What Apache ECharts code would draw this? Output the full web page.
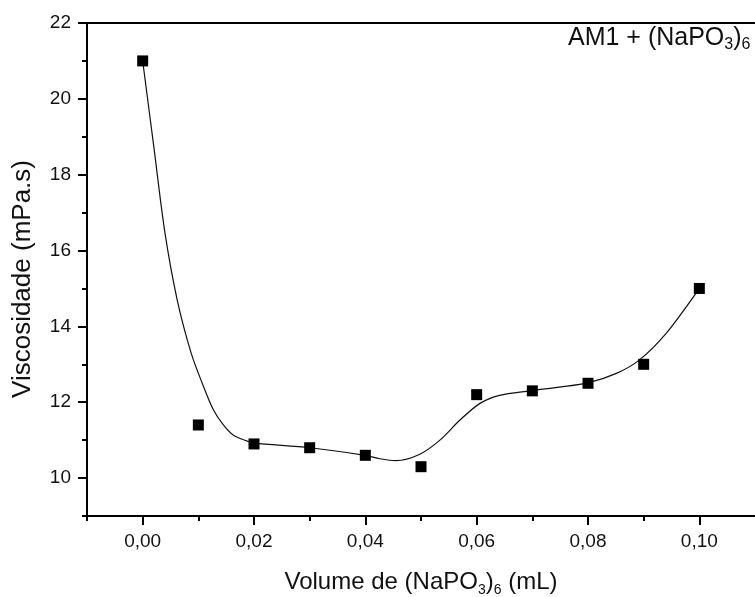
<!DOCTYPE html>
<html>
<head>
<meta charset="utf-8">
<script src="https://cdn.jsdelivr.net/npm/echarts@6/dist/echarts.min.js"></script>
<style>
html,body{margin:0;padding:0;background:#fff;}
#chart{width:755px;height:597px;}
</style>
</head>
<body>
<div id="chart"></div>
<script>
// Measured data points
var xValues = [0, 0.01, 0.02, 0.03, 0.04, 0.05, 0.06, 0.07, 0.08, 0.09, 0.10];
var viscosity = [21.0, 11.4, 10.9, 10.8, 10.6, 10.3, 12.2, 12.3, 12.5, 13.0, 15.0];

// Smoothed curve
var curveX = [0, 0.002, 0.004, 0.0062, 0.0087, 0.0107, 0.0127, 0.0145, 0.0163, 0.0187, 0.02, 0.03, 0.04, 0.0426, 0.0455, 0.0498, 0.0534, 0.057, 0.0606, 0.0641, 0.0695, 0.0749, 0.08, 0.0851, 0.0892, 0.094, 0.0994, 0.10];
var curveY = [21.0, 18.74, 16.47, 14.7, 13.3, 12.5, 11.8, 11.4, 11.13, 10.98, 10.92, 10.8, 10.6, 10.51, 10.46, 10.63, 11.0, 11.53, 11.97, 12.18, 12.3, 12.4, 12.51, 12.76, 13.11, 13.81, 14.87, 15.0];

// Axis ticks
var xMajorTicks = [0, 0.02, 0.04, 0.06, 0.08, 0.10];
var xMinorTicks = [-0.01, 0.01, 0.03, 0.05, 0.07, 0.09];
var yMajorTicks = [10, 12, 14, 16, 18, 20, 22];
var yMinorTicks = [9, 11, 13, 15, 17, 19, 21];

var FONT = '"Liberation Sans", Arial, sans-serif';
var chart = echarts.init(document.getElementById('chart'), null, {renderer: 'canvas'});

var scatterData = xValues.map(function (x, i) { return [x, viscosity[i]]; });
var curveData = curveX.map(function (x, i) { return [x, curveY[i]]; });

var axisLine = {show: true, onZero: false, lineStyle: {color: '#000', width: 2}};
var grid = {left: 87, top: 23, width: 669, height: 493, containLabel: false};

var option = {
  animation: false,
  backgroundColor: '#fff',
  grid: grid,
  xAxis: [
    {
      type: 'value', min: -0.01, max: 0.11, position: 'bottom',
      axisLine: axisLine,
      axisTick: {show: true, inside: false, length: 9, lineStyle: {color: '#000', width: 2}, customValues: xMajorTicks},
      axisLabel: {show: true, margin: 16, fontFamily: FONT, fontSize: 19, color: '#111', customValues: xMajorTicks,
        formatter: function (v) { return v.toFixed(2).replace('.', ','); }},
      splitLine: {show: false}
    },
    {
      type: 'value', min: -0.01, max: 0.11, position: 'bottom',
      axisLine: {show: false, onZero: false},
      axisTick: {show: true, inside: false, length: 5, lineStyle: {color: '#000', width: 2}, customValues: xMinorTicks},
      axisLabel: {show: false},
      splitLine: {show: false}
    },
    {
      type: 'value', min: -0.01, max: 0.11, position: 'top',
      axisLine: axisLine,
      axisTick: {show: false},
      axisLabel: {show: false},
      splitLine: {show: false}
    }
  ],
  yAxis: [
    {
      type: 'value', min: 9, max: 22, position: 'left',
      axisLine: axisLine,
      axisTick: {show: true, inside: false, length: 9, lineStyle: {color: '#000', width: 2}, customValues: yMajorTicks},
      axisLabel: {show: true, margin: 16, fontFamily: FONT, fontSize: 19, color: '#111', customValues: yMajorTicks},
      splitLine: {show: false}
    },
    {
      type: 'value', min: 9, max: 22, position: 'left',
      axisLine: {show: false, onZero: false},
      axisTick: {show: true, inside: false, length: 5, lineStyle: {color: '#000', width: 2}, customValues: yMinorTicks},
      axisLabel: {show: false},
      splitLine: {show: false}
    }
  ],
  series: [
    {
      type: 'line', xAxisIndex: 0, yAxisIndex: 0,
      data: curveData, smooth: 0.3, showSymbol: false, symbol: 'none',
      lineStyle: {color: '#111', width: 1.2}, z: 2
    },
    {
      type: 'scatter', xAxisIndex: 0, yAxisIndex: 0,
      data: scatterData, symbol: 'rect', symbolSize: 11,
      itemStyle: {color: '#000', opacity: 1}, z: 3
    }
  ],
  graphic: [
    {
      type: 'text', x: 421, y: 582, z: 10,
      style: {
        text: '{m|Volume de (NaPO}{s|3}{m|)}{s|6}{m| (mL)}',
        align: 'center', verticalAlign: 'middle',
        rich: {
          m: {fontFamily: FONT, fontSize: 24, lineHeight: 30, verticalAlign: 'middle', fill: '#111'},
          s: {fontFamily: FONT, fontSize: 14, lineHeight: 12, verticalAlign: 'bottom', fill: '#111'}
        }
      }
    },
    {
      type: 'text', x: 23, y: 279, rotation: Math.PI / 2, z: 10,
      style: {
        text: 'Viscosidade (mPa.s)',
        align: 'center', verticalAlign: 'middle',
        fontFamily: FONT, fontSize: 26, fill: '#111'
      }
    },
    {
      type: 'text', x: 568, y: 38, z: 10,
      style: {
        text: '{m|AM1 + (NaPO}{s|3}{m|)}{s|6}',
        align: 'left', verticalAlign: 'middle',
        rich: {
          m: {fontFamily: FONT, fontSize: 25, lineHeight: 30, verticalAlign: 'middle', fill: '#111'},
          s: {fontFamily: FONT, fontSize: 16, lineHeight: 2, verticalAlign: 'bottom', fill: '#111'}
        }
      }
    }
  ]
};
chart.setOption(option);
</script>
</body>
</html>
